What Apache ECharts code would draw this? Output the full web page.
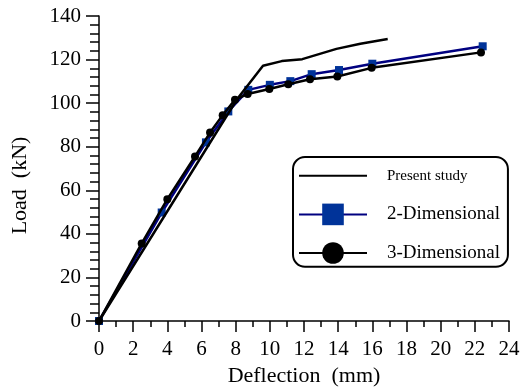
<!DOCTYPE html>
<html>
<head>
<meta charset="utf-8">
<script src="https://cdn.jsdelivr.net/npm/echarts@6/dist/echarts.min.js"></script>
<style>
  html, body { margin: 0; padding: 0; background: #fff; }
  #chart { width: 523px; height: 392px; }
</style>
</head>
<body>
<div id="chart"></div>
<script>
// load-deflection data
const presentX = [0, 8.1, 9.6, 10.7, 11.9, 13.9, 15.3, 16.9]
const presentY = [0, 102, 117.2, 119.3, 120.2, 124.9, 127.3, 129.4]

const dim2X = [0, 3.67, 6.26, 7.57, 8.74, 10.0, 11.2, 12.45, 14.05, 16.0, 22.46]
const dim2Y = [0, 49.8, 82, 96.2, 106.1, 108.4, 110.1, 113.3, 115.2, 118.1, 126.1]

const dim3X = [0, 2.5, 4.0, 5.62, 6.5, 7.24, 7.96, 8.7, 9.97, 11.08, 12.35, 13.95, 15.96, 22.36]
const dim3Y = [0, 35.6, 55.9, 75.5, 86.5, 94.5, 101.6, 104.2, 106.5, 108.7, 111, 112.2, 116.2, 123.3]

const seriesNames = ['Present study', '2-Dimensional', '3-Dimensional']

const pairs = (xs, ys) => xs.map((x, i) => [x, ys[i]])
const font = '"Liberation Serif", "Times New Roman", serif'

const chart = echarts.init(document.getElementById('chart'))

const option = {
  animation: false,
  textStyle: { fontFamily: font },
  grid: { left: 99, right: 14, top: 16, bottom: 67 },
  xAxis: {
    type: 'value',
    min: 0,
    max: 24,
    interval: 2,
    name: 'Deflection  (mm)',
    nameLocation: 'middle',
    nameGap: 44,
    nameTextStyle: { fontSize: 22, color: '#000', fontFamily: font },
    axisLine: { onZero: false, lineStyle: { color: '#000', width: 1.5 } },
    axisTick: { length: 11, lineStyle: { color: '#000', width: 1.5 } },
    minorTick: { show: true, splitNumber: 2, length: 6, lineStyle: { color: '#000', width: 1.5 } },
    axisLabel: { fontSize: 21, color: '#000', margin: 18, fontFamily: font },
    splitLine: { show: false }
  },
  yAxis: {
    type: 'value',
    min: 0,
    max: 140,
    interval: 20,
    name: 'Load  (kN)',
    nameLocation: 'middle',
    nameGap: 68,
    nameTextStyle: { fontSize: 22, color: '#000', fontFamily: font, padding: [0, 34, 0, 0] },
    axisLine: { show: true, onZero: false, lineStyle: { color: '#000', width: 1.5 } },
    axisTick: { length: 13, lineStyle: { color: '#000', width: 1.5 } },
    minorTick: { show: true, splitNumber: 5, length: 9, lineStyle: { color: '#000', width: 1.5 } },
    axisLabel: { fontSize: 21, color: '#000', margin: 18, fontFamily: font },
    splitLine: { show: false }
  },
  legend: {
    orient: 'vertical',
    left: 293,
    top: 157,
    itemWidth: 68,
    itemHeight: 27,
    itemGap: 17,
    padding: [8, 8, 3, 5],
    borderColor: '#000',
    borderWidth: 2,
    borderRadius: 12,
    data: [
      { name: seriesNames[0], itemStyle: { opacity: 0 } },
      { name: seriesNames[1] },
      { name: seriesNames[2] }
    ],
    formatter: name => name === seriesNames[0] ? '{s|' + name + '}' : '{b|' + name + '}',
    textStyle: {
      color: '#000',
      fontFamily: font,
      rich: {
        s: { fontSize: 15, padding: [0, 0, 0, 15], fontFamily: font, color: '#000' },
        b: { fontSize: 19, padding: [0, 0, 0, 15], fontFamily: font, color: '#000' }
      }
    }
  },
  series: [
    {
      name: seriesNames[1],
      type: 'line',
      data: pairs(dim2X, dim2Y),
      symbol: 'rect',
      symbolSize: 8,
      z: 2,
      lineStyle: { color: '#000080', width: 2.5 },
      itemStyle: { color: '#003399' }
    },
    {
      name: seriesNames[2],
      type: 'line',
      data: pairs(dim3X, dim3Y),
      symbol: 'circle',
      symbolSize: 8,
      z: 3,
      lineStyle: { color: '#000', width: 2.5 },
      itemStyle: { color: '#000' }
    },
    {
      name: seriesNames[0],
      type: 'line',
      data: pairs(presentX, presentY),
      symbol: 'none',
      z: 4,
      lineStyle: { color: '#000', width: 2.5 },
      itemStyle: { color: '#000' }
    }
  ]
}

chart.setOption(option)
</script>
</body>
</html>
